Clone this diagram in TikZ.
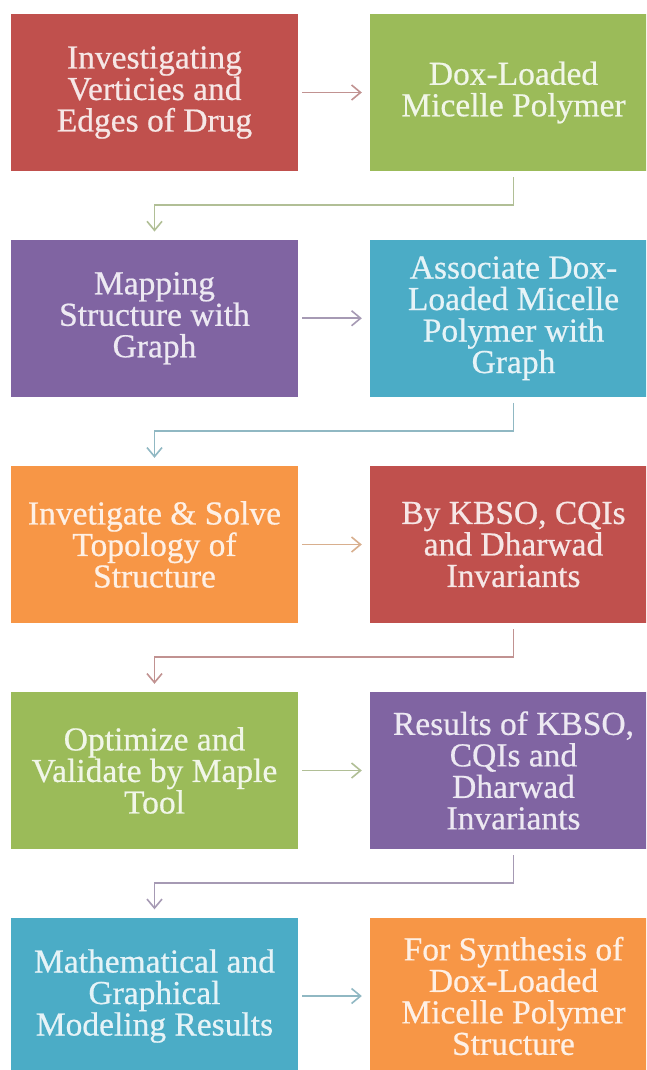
\documentclass[tikz,border=0pt]{standalone}
\usepackage{fontspec}
\setmainfont{Liberation Serif}
\newfontfamily\boxfont{Liberation Serif}[FakeBold=0.6]
\usetikzlibrary{arrows.meta}
\definecolor{cred}{HTML}{C0504D}
\definecolor{cgreen}{HTML}{9BBB59}
\definecolor{cpurple}{HTML}{8064A2}
\definecolor{cblue}{HTML}{4BACC6}
\definecolor{corange}{HTML}{F79646}
\tikzset{
  flowbox/.style={fill=#1, text=#1!14!white, minimum width=287pt, minimum height=157pt,
    inner sep=0pt, align=center, font=\boxfont\fontsize{33.5}{31.5}\selectfont},
  conn/.style={draw=#1!60!gray!70!white, line width=1.6pt,
    -{Straight Barb[length=9pt,width=15pt]}},
  hconn/.style={conn=#1, shorten <=4pt, shorten >=8pt},
  vconn/.style={conn=#1, shorten <=6pt, shorten >=8pt},
}
\begin{document}
\begin{tikzpicture}[x=1pt,y=-1pt]
\useasboundingbox (0,0) rectangle (646,1070);
\clip (0,0) rectangle (646,1070);
\fill[white] (0,0) rectangle (646,1070);

\node[flowbox=cred]    (a1) at (154.5, 92.5) {Investigating\\Verticies and\\Edges of Drug};
\node[flowbox=cgreen]  (b1) at (513.5, 92.5) {Dox-Loaded\\Micelle Polymer};
\node[flowbox=cpurple] (a2) at (154.5, 318.25) {Mapping\\Structure with\\Graph};
\node[flowbox=cblue]   (b2) at (513.5, 318.25) {Associate Dox-\\Loaded Micelle\\Polymer with\\Graph};
\node[flowbox=corange] (a3) at (154.5, 544.5) {Invetigate \& Solve\\Topology of\\Structure};
\node[flowbox=cred]    (b3) at (513.5, 544.5) {By KBSO, CQIs\\and Dharwad\\Invariants};
\node[flowbox=cgreen]  (a4) at (154.5, 770.5) {Optimize and\\Validate by Maple\\Tool};
\node[flowbox=cpurple] (b4) at (513.5, 770.5) {Results of KBSO,\\CQIs and\\Dharwad\\Invariants};
\node[flowbox=cblue]   (a5) at (154.5, 996) {Mathematical and\\Graphical\\Modeling Results};
\node[flowbox=corange] (b5) at (513.5, 996) {For Synthesis of\\Dox-Loaded\\Micelle Polymer\\Structure};

\draw[hconn=cred]    (a1) -- (b1);
\draw[hconn=cpurple] (a2) -- (b2);
\draw[hconn=corange] (a3) -- (b3);
\draw[hconn=cgreen]  (a4) -- (b4);
\draw[hconn=cblue]   (a5) -- (b5);

\draw[vconn=cgreen]  (b1.south) -- ++(0,34) -| (a2.north);
\draw[vconn=cblue]   (b2.south) -- ++(0,34) -| (a3.north);
\draw[vconn=cred]    (b3.south) -- ++(0,34) -| (a4.north);
\draw[vconn=cpurple] (b4.south) -- ++(0,34) -| (a5.north);
\end{tikzpicture}
\end{document}
